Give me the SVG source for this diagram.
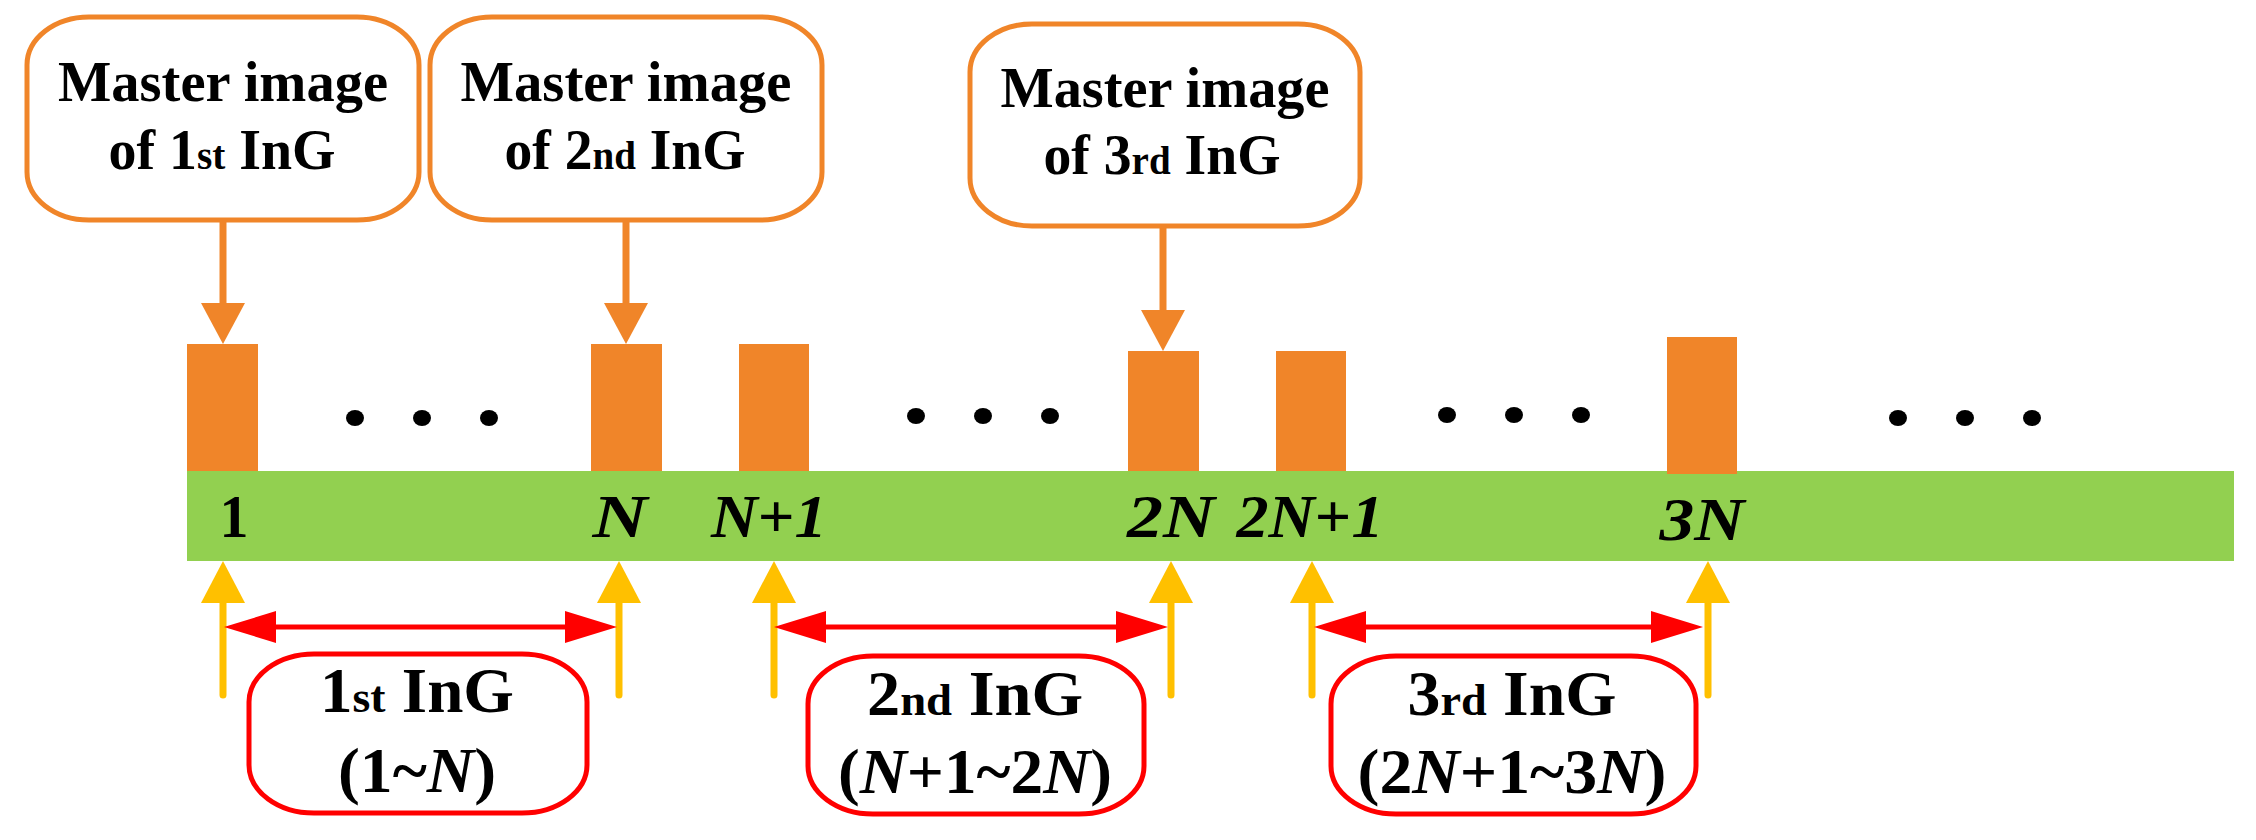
<svg xmlns="http://www.w3.org/2000/svg" width="2256" height="840" viewBox="0 0 2256 840">
<style>
text{font-family:"Liberation Serif","Times New Roman",serif;font-weight:bold;fill:#000;text-anchor:middle}
.t{font-size:57px}.b{font-size:64px}.l{font-size:62px}
.s{font-size:40px}.bs{font-size:45px}
.ob{fill:#fff;stroke:#F08529;stroke-width:5}
.rb{fill:#fff;stroke:#FF0000;stroke-width:5}
.bar{fill:#F08529}
.oa{stroke:#F08529;stroke-width:7;fill:none}
.ya{stroke:#FFC000;stroke-width:7;fill:none;stroke-linecap:round}
.ra{stroke:#FF0000;stroke-width:5;fill:none}
</style>
<rect x="187" y="471" width="2047" height="90" fill="#92D050"/>
<g id="bars">
<rect class="bar" x="187" y="344" width="71" height="127"/>
<rect class="bar" x="591" y="344" width="71" height="127"/>
<rect class="bar" x="739" y="344" width="70" height="127"/>
<rect class="bar" x="1128" y="351" width="71" height="120"/>
<rect class="bar" x="1276" y="351" width="70" height="120"/>
<rect class="bar" x="1667" y="337" width="70" height="137"/>
</g>
<g id="dots" fill="#000">
<ellipse cx="355" cy="418" rx="9" ry="8"/><ellipse cx="422" cy="418" rx="9" ry="8"/><ellipse cx="489" cy="418" rx="9" ry="8"/>
<ellipse cx="916" cy="416" rx="9" ry="8"/><ellipse cx="983" cy="416" rx="9" ry="8"/><ellipse cx="1050" cy="416" rx="9" ry="8"/>
<ellipse cx="1447" cy="415" rx="9" ry="8"/><ellipse cx="1514" cy="415" rx="9" ry="8"/><ellipse cx="1581" cy="415" rx="9" ry="8"/>
<ellipse cx="1898" cy="418" rx="9" ry="8"/><ellipse cx="1965" cy="418" rx="9" ry="8"/><ellipse cx="2032" cy="418" rx="9" ry="8"/>
</g>
<g id="barlabels">
<text class="l" x="234" y="537" textLength="29" lengthAdjust="spacingAndGlyphs">1</text>
<text class="l" x="620" y="537" font-style="italic" textLength="55" lengthAdjust="spacingAndGlyphs">N</text>
<text class="l" x="769" y="537" font-style="italic" textLength="116" lengthAdjust="spacingAndGlyphs">N<tspan font-style="normal">+</tspan>1</text>
<text class="l" x="1171" y="537" font-style="italic" textLength="88" lengthAdjust="spacingAndGlyphs">2N</text>
<text class="l" x="1310" y="537" font-style="italic" textLength="147" lengthAdjust="spacingAndGlyphs">2N<tspan font-style="normal">+</tspan>1</text>
<text class="l" x="1702" y="540" font-style="italic" textLength="85" lengthAdjust="spacingAndGlyphs">3N</text>
</g>
<g id="m1"><rect class="ob" x="27" y="17" width="392" height="203" rx="62" ry="48"/>
<text class="t" x="223" y="101" textLength="330" lengthAdjust="spacingAndGlyphs">Master image</text>
<text class="t" x="222" y="169" textLength="227" lengthAdjust="spacingAndGlyphs">of 1<tspan class="s">st</tspan> InG</text></g>
<g id="m2"><rect class="ob" x="430" y="17" width="392" height="203" rx="62" ry="48"/>
<text class="t" x="626" y="101" textLength="331" lengthAdjust="spacingAndGlyphs">Master image</text>
<text class="t" x="625" y="169" textLength="241" lengthAdjust="spacingAndGlyphs">of 2<tspan class="s">nd</tspan> InG</text></g>
<g id="m3"><rect class="ob" x="970" y="24" width="390" height="202" rx="62" ry="48"/>
<text class="t" x="1165" y="107" textLength="329" lengthAdjust="spacingAndGlyphs">Master image</text>
<text class="t" x="1162" y="174" textLength="237" lengthAdjust="spacingAndGlyphs">of 3<tspan class="s">rd</tspan> InG</text></g>
<g id="g1"><rect class="rb" x="249" y="654" width="338" height="159" rx="65" ry="48"/>
<text class="b" x="417" y="712" textLength="194" lengthAdjust="spacingAndGlyphs">1<tspan class="bs">st</tspan> InG</text>
<text class="b" x="417" y="792" textLength="158" lengthAdjust="spacingAndGlyphs">(1~<tspan font-style="italic">N</tspan>)</text></g>
<g id="g2"><rect class="rb" x="808" y="656" width="336" height="158" rx="65" ry="48"/>
<text class="b" x="975" y="715" textLength="216" lengthAdjust="spacingAndGlyphs">2<tspan class="bs">nd</tspan> InG</text>
<text class="b" x="975" y="793" textLength="274" lengthAdjust="spacingAndGlyphs">(<tspan font-style="italic">N</tspan>+1~2<tspan font-style="italic">N</tspan>)</text></g>
<g id="g3"><rect class="rb" x="1331" y="656" width="365" height="158" rx="65" ry="48"/>
<text class="b" x="1512" y="715" textLength="209" lengthAdjust="spacingAndGlyphs">3<tspan class="bs">rd</tspan> InG</text>
<text class="b" x="1512" y="793" textLength="309" lengthAdjust="spacingAndGlyphs">(2<tspan font-style="italic">N</tspan>+1~3<tspan font-style="italic">N</tspan>)</text></g>
<g id="connectors">
<g fill="#F08529">
<path class="oa" d="M223,220V306"/><path d="M201,303L245,303L223,344Z"/>
<path class="oa" d="M626,220V306"/><path d="M604,303L648,303L626,344Z"/>
<path class="oa" d="M1163,226V313"/><path d="M1141,310L1185,310L1163,351Z"/>
</g>
<g fill="#FFC000">
<path class="ya" d="M223,695V600"/><path d="M201,603L245,603L223,561Z"/>
<path class="ya" d="M619,695V600"/><path d="M597,603L641,603L619,561Z"/>
<path class="ya" d="M774,695V600"/><path d="M752,603L796,603L774,561Z"/>
<path class="ya" d="M1171,695V600"/><path d="M1149,603L1193,603L1171,561Z"/>
<path class="ya" d="M1312,695V600"/><path d="M1290,603L1334,603L1312,561Z"/>
<path class="ya" d="M1708,695V600"/><path d="M1686,603L1730,603L1708,561Z"/>
</g>
<g fill="#FF0000">
<path class="ra" d="M270,627H571"/><path d="M224,627L276,611L276,643Z"/><path d="M617,627L565,611L565,643Z"/>
<path class="ra" d="M820,627H1122"/><path d="M774,627L826,611L826,643Z"/><path d="M1168,627L1116,611L1116,643Z"/>
<path class="ra" d="M1360,627H1657"/><path d="M1314,627L1366,611L1366,643Z"/><path d="M1703,627L1651,611L1651,643Z"/>
</g>
</g>
</svg>
